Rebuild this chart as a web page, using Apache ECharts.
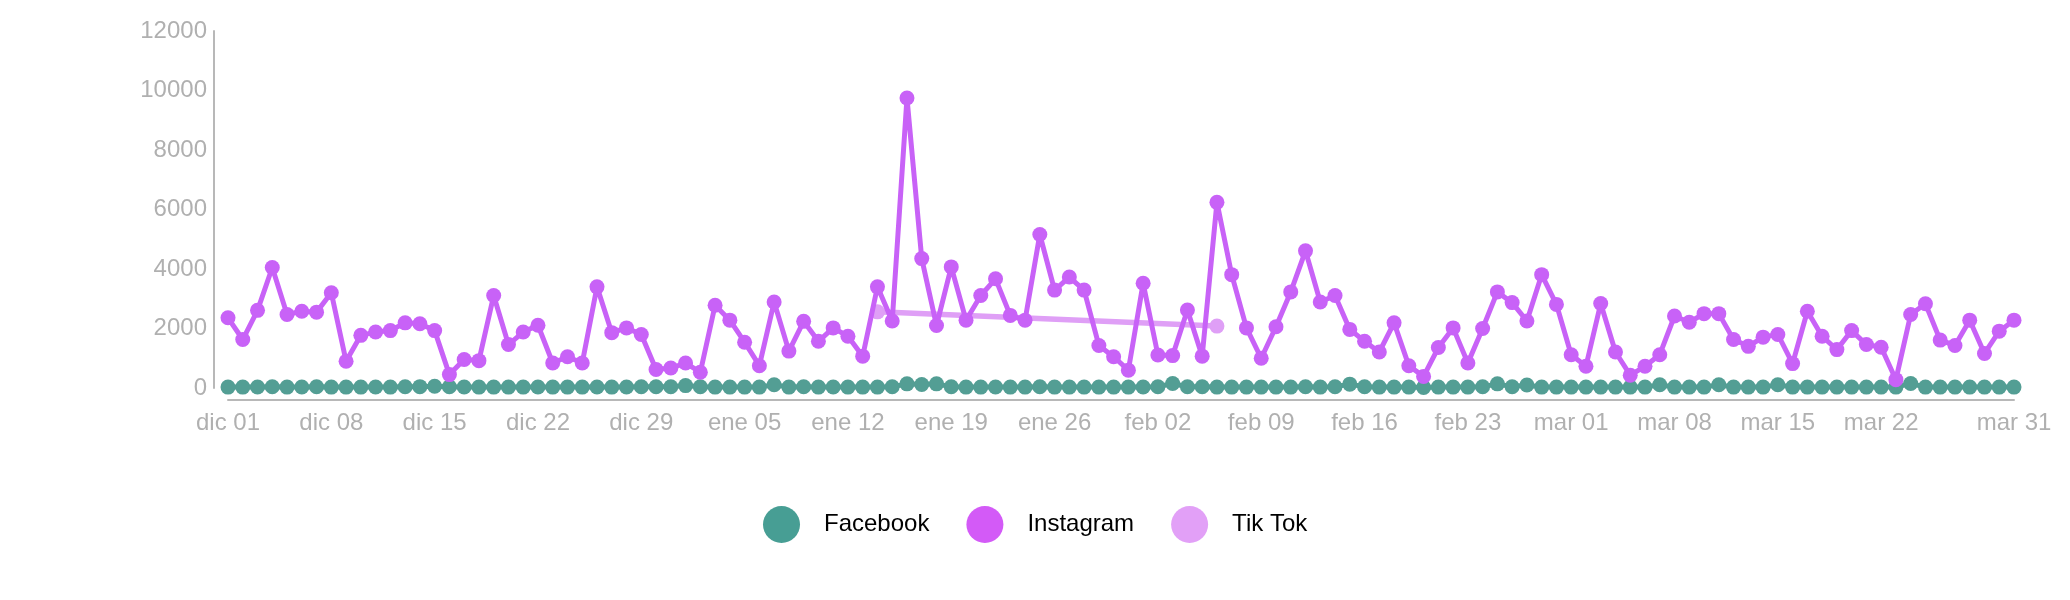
<!DOCTYPE html>
<html>
<head>
<meta charset="utf-8">
<script src="https://cdn.jsdelivr.net/npm/echarts@6/dist/echarts.min.js"></script>
<style>
  html, body { margin: 0; padding: 0; background: #ffffff; }
  #chart { width: 2070px; height: 600px; }
</style>
</head>
<body>
<div id="chart"></div>
<script>
// Months (Spanish short names) and their day counts: 1 Dec 2023 – 31 Mar 2024
const months = [['dic', 31], ['ene', 31], ['feb', 29], ['mar', 31]];
const categories = [];
months.forEach(function (m) {
  for (let d = 1; d <= m[1]; d++) categories.push(m[0] + ' ' + (d < 10 ? '0' + d : d));
});

// Indices of category labels shown on the x axis
const labelIndices = [0, 7, 14, 21, 28, 35, 42, 49, 56, 63, 70, 77, 84, 91, 98, 105, 112, 121];

const seriesNames = ['Facebook', 'Instagram', 'Tik Tok'];

const facebook = [
  30, 30, 35, 40, 30, 35, 40, 30, 30, 30, 35, 30, 40, 45, 60, 40, 35, 30, 30, 30,
  30, 35, 30, 30, 30, 35, 30, 35, 40, 40, 40, 80, 40, 30, 30, 30, 30, 110, 30, 40,
  30, 35, 30, 30, 30, 40, 140, 120, 140, 40, 30, 30, 35, 30, 30, 40, 30, 30, 30, 30,
  30, 30, 35, 40, 150, 40, 40, 30, 30, 30, 30, 30, 30, 40, 30, 40, 130, 40, 30, 30,
  30, 20, 30, 30, 30, 40, 140, 40, 100, 30, 30, 30, 30, 30, 30, 30, 30, 110, 30, 30,
  30, 110, 30, 30, 30, 110, 30, 30, 30, 30, 30, 30, 30, 30, 150, 30, 30, 30, 30, 30,
  30, 30
];

const instagram = [
  2360, 1630, 2610, 4050, 2470, 2580, 2550, 3200, 900, 1770,
  1880, 1930, 2190, 2160, 1930, 450, 960, 920, 3110, 1460,
  1880, 2110, 840, 1050, 840, 3400, 1860, 2020, 1800, 620,
  670, 840, 530, 2780, 2280, 1540, 750, 2890, 1240, 2240,
  1570, 2020, 1740, 1070, 3400, 2250, 9750, 4350, 2100, 4070,
  2280, 3110, 3670, 2440, 2280, 5160, 3290, 3730, 3290, 1430,
  1050, 600, 3520, 1110, 1090, 2620, 1070, 6240, 3810, 2020,
  1000, 2060, 3230, 4610, 2890, 3110, 1970, 1570, 1210, 2190,
  750, 390, 1360, 2020, 840, 2000, 3230, 2870, 2250, 3810,
  2810, 1120, 730, 2840, 1210, 430, 730, 1120, 2420, 2210,
  2500, 2500, 1630, 1400, 1710, 1800, 820, 2580, 1740, 1290,
  1930, 1460, 1370, 280, 2470, 2830, 1610, 1430, 2280, 1160,
  1910, 2280
];

// Tik Tok: only two recorded values (14 Jan and 6 Feb)
const tiktokIndex = [44, 67];
const tiktokValues = [2560, 2080];
const tiktok = categories.map(function () { return null; });
tiktokIndex.forEach(function (idx, k) { tiktok[idx] = tiktokValues[k]; });

const yTicks = { min: 0, max: 12000, interval: 2000 };

const colors = ['#539e94', '#c862f7', '#df9ff6'];
const legendColors = ['#479e94', '#d35af7', '#e2a0f7'];

const chart = echarts.init(document.getElementById('chart'), null, { renderer: 'canvas' });
const axisFont = "'Liberation Sans', Arial, Helvetica, sans-serif";

chart.setOption({
  animation: false,
  backgroundColor: '#ffffff',
  grid: { left: 228, right: 56, top: 31, bottom: 212, containLabel: false },
  legend: {
    left: 758,
    top: 501,
    itemWidth: 37,
    itemHeight: 37,
    itemGap: 37,
    icon: 'circle',
    textStyle: {
      color: '#000000',
      fontSize: 24,
      fontFamily: axisFont,
      padding: [0, 0, 0, 19]
    },
    data: seriesNames.map(function (n, i) {
      return { name: n, itemStyle: { color: legendColors[i] } };
    })
  },
  xAxis: {
    type: 'category',
    data: categories,
    boundaryGap: false,
    offset: 12,
    axisLine: { show: true, onZero: false, lineStyle: { color: '#b8b8b8', width: 2 } },
    axisTick: { show: false },
    splitLine: { show: false },
    axisLabel: {
      color: '#b0b0b0',
      fontSize: 24,
      fontFamily: axisFont,
      margin: 11,
      interval: function (index) { return labelIndices.indexOf(index) !== -1; }
    }
  },
  yAxis: {
    type: 'value',
    min: yTicks.min,
    max: yTicks.max,
    interval: yTicks.interval,
    offset: 14,
    axisLine: { show: true, lineStyle: { color: '#b8b8b8', width: 2 } },
    axisTick: { show: false },
    splitLine: { show: false },
    axisLabel: {
      color: '#b0b0b0', fontSize: 24, fontFamily: axisFont, margin: 7,
      formatter: function (v) { return String(v); }
    }
  },
  series: [
    {
      name: seriesNames[0],
      type: 'line',
      data: facebook,
      symbol: 'circle',
      symbolSize: 15,
      showAllSymbol: true,
      z: 3,
      lineStyle: { color: colors[0], width: 5 },
      itemStyle: { color: colors[0] }
    },
    {
      name: seriesNames[2],
      type: 'line',
      data: tiktok,
      connectNulls: true,
      symbol: 'circle',
      symbolSize: 15,
      showAllSymbol: true,
      z: 2,
      lineStyle: { color: colors[2], width: 5.5 },
      itemStyle: { color: colors[2] }
    },
    {
      name: seriesNames[1],
      type: 'line',
      data: instagram,
      symbol: 'circle',
      symbolSize: 15,
      showAllSymbol: true,
      z: 4,
      lineStyle: { color: colors[1], width: 5 },
      itemStyle: { color: colors[1] }
    }
  ]
});
</script>
</body>
</html>
